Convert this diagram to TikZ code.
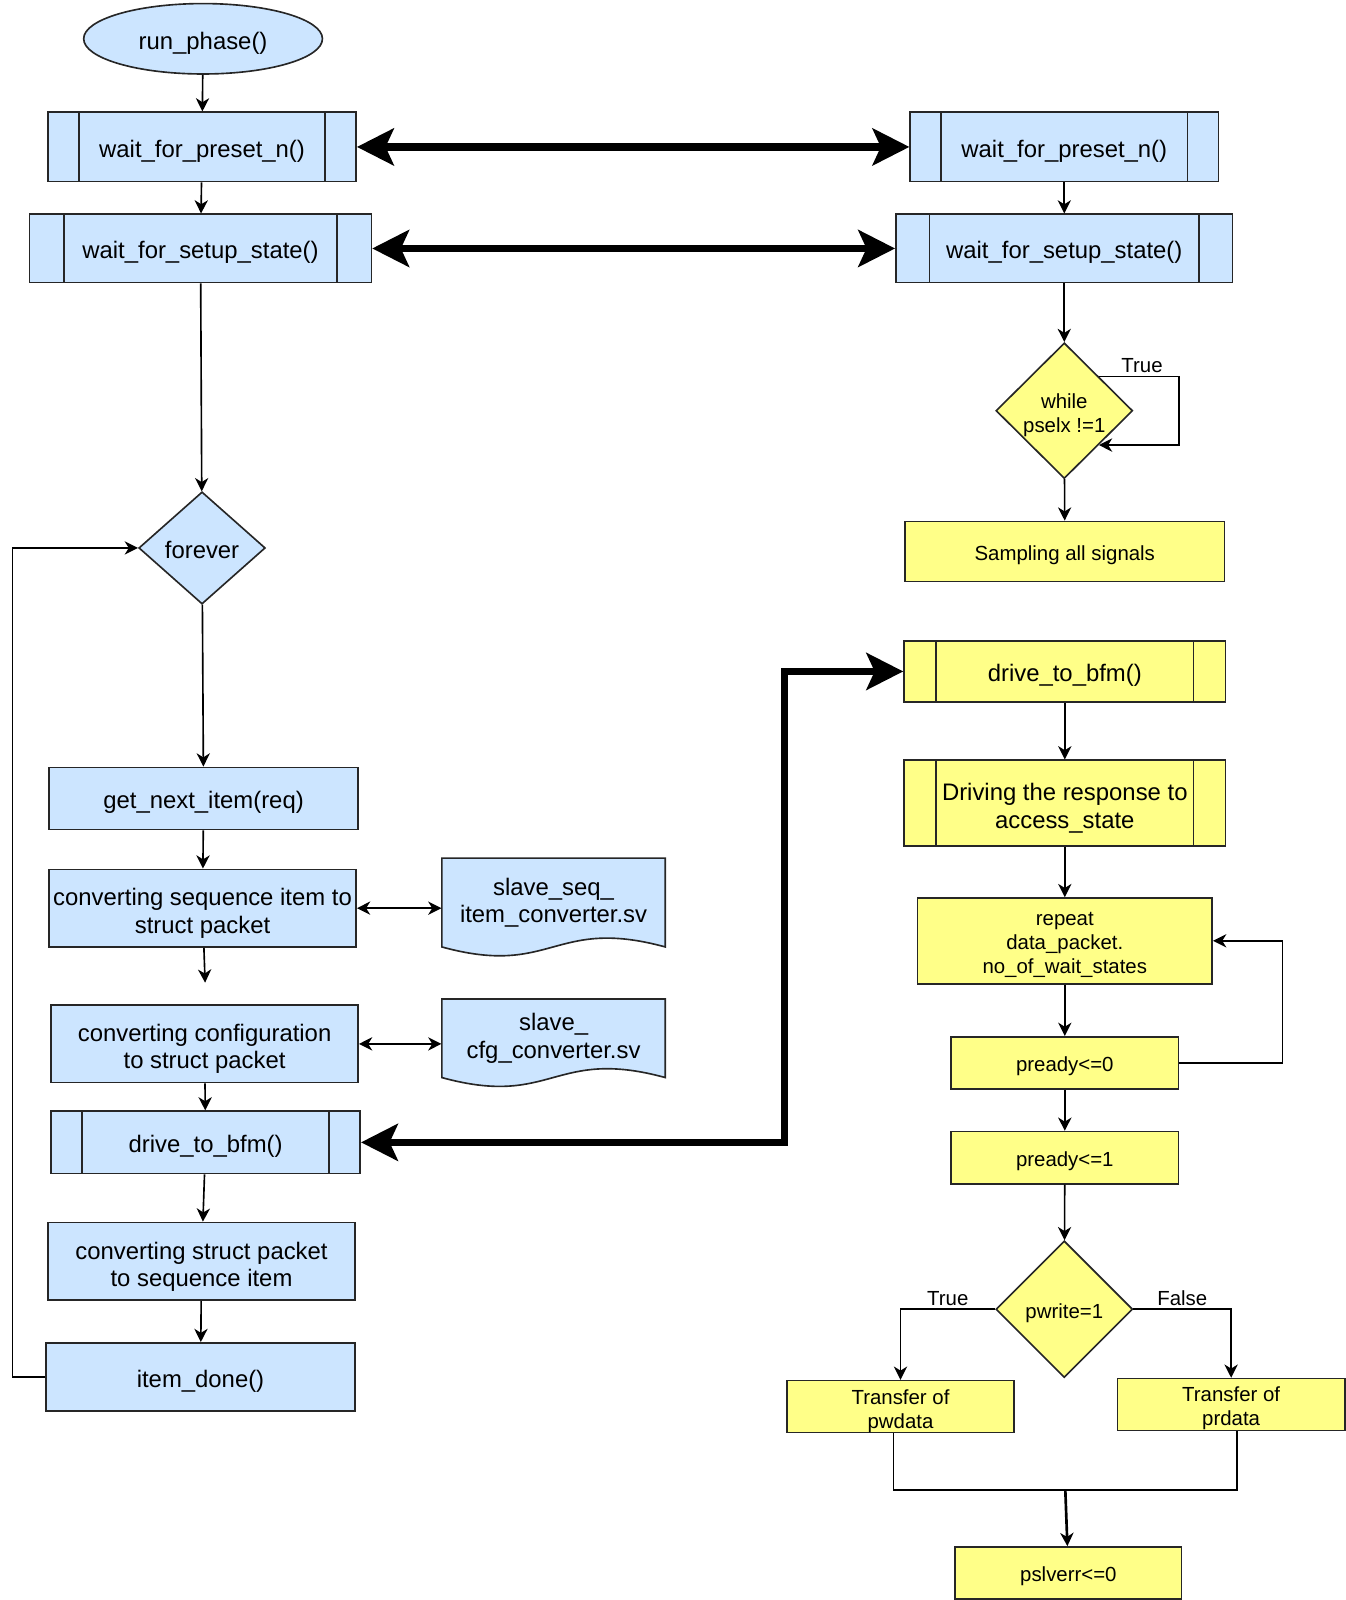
\documentclass[tikz,border=0pt]{standalone}
\usepackage{fontspec}
\setmainfont{Liberation Sans}
\usetikzlibrary{shapes.geometric,arrows.meta,calc,positioning}
\definecolor{azul}{HTML}{CCE5FF}
\definecolor{amarillo}{HTML}{FFFF88}

\begin{document}
\begin{tikzpicture}[x=0.5pt,y=-0.5pt,
  caja/.style={draw=black!85, line width=0.8pt, inner sep=0pt, align=center},
  azulc/.style={caja, fill=azul, font=\fontsize{11.7}{13.5}\selectfont, text height=12.5pt},
  amac/.style={caja, fill=amarillo, font=\fontsize{10}{11.75}\selectfont, text height=10.7pt},
  amag/.style={amac, font=\fontsize{11.7}{13.5}\selectfont, text height=12.5pt},
  subproc/.style={path picture={
    \draw[line width=0.8pt, draw=black!85]
      ($(path picture bounding box.north west)!0.1!(path picture bounding box.north east)$) --
      ($(path picture bounding box.south west)!0.1!(path picture bounding box.south east)$)
      ($(path picture bounding box.north east)!0.1!(path picture bounding box.north west)$) --
      ($(path picture bounding box.south east)!0.1!(path picture bounding box.south west)$);}},
  flecha/.style={-{Stealth[length=6.5pt,width=6.5pt,inset=2pt]}, line width=0.8pt},
  dflecha/.style={{Stealth[length=6.5pt,width=6.5pt,inset=2pt]}-{Stealth[length=6.5pt,width=6.5pt,inset=2pt]}, line width=0.8pt},
  gruesa/.style={{Stealth[length=18pt,width=18pt,inset=4pt]}-{Stealth[length=18pt,width=18pt,inset=4pt]}, line width=3.5pt},
  etiq/.style={font=\fontsize{10}{12}\selectfont, inner sep=1.5pt}
]
\useasboundingbox (0,0) rectangle (1319,1568);

% Columna izquierda (driver)
\node[ellipse, azulc, minimum width=117pt, minimum height=34.5pt] (run) at (199,38) {run\_phase()}; % inicio
\node[azulc, subproc, minimum width=151pt, minimum height=34pt] (presetL) at (198,144) {wait\_for\_preset\_n()};
\node[azulc, subproc, minimum width=167.5pt, minimum height=33.5pt] (setupL) at (196.5,243.5) {wait\_for\_setup\_state()};
\node[diamond, azulc, text depth=2pt, minimum width=62pt, minimum height=55pt] (forever) at (198,537) {forever};
\node[azulc, minimum width=151.5pt, minimum height=30.5pt] (getnext) at (199.5,782.5) {get\_next\_item(req)};
\node[azulc, text height=27pt, minimum width=150.5pt, minimum height=38pt] (conv1) at (198.5,890) {converting sequence item to\\struct packet};
\node[azulc, text height=27pt, minimum width=150.5pt, minimum height=38pt] (conv2) at (200.5,1023) {converting configuration\\to struct packet};
\node[azulc, subproc, minimum width=151.5pt, minimum height=30.5pt] (driveL) at (201.5,1119.5) {drive\_to\_bfm()};
\node[azulc, text height=27.5pt, minimum width=150.5pt, minimum height=38pt] (conv3) at (197.5,1236) {converting struct packet\\to sequence item};
\node[azulc, minimum width=151.5pt, minimum height=33.5pt] (done) at (196.5,1349.5) {item\_done()};

% Documentos de conversion
\filldraw[fill=azul, draw=black!85, line width=0.8pt] (433,841) -- (652,841) -- (652,928)
  .. controls (542,898) and (542,958) .. (433,928) -- cycle;
\node[font=\fontsize{11.7}{13.5}\selectfont, align=center, inner sep=0pt, minimum width=109.5pt, minimum height=43.5pt] (seqconv) at (542.5,884.5) {slave\_seq\_\\item\_converter.sv};
\filldraw[fill=azul, draw=black!85, line width=0.8pt] (433,979) -- (652,979) -- (652,1056)
  .. controls (542,1026) and (542,1086) .. (433,1056) -- cycle;
\node[font=\fontsize{11.7}{13.5}\selectfont, align=center, inner sep=0pt, minimum width=109.5pt, minimum height=38.5pt] (cfgconv) at (542.5,1017.5) {slave\_\\cfg\_converter.sv};

% Columna derecha (bfm)
\node[azulc, subproc, minimum width=151pt, minimum height=34pt] (presetR) at (1043,144) {wait\_for\_preset\_n()};
\node[azulc, subproc, minimum width=165pt, minimum height=33.5pt] (setupR) at (1043,243.5) {wait\_for\_setup\_state()};
\node[diamond, amac, text height=23pt, minimum width=67pt, minimum height=66.5pt] (whilesel) at (1043,402.5) {while\\pselx !=1};
\node[amac, minimum width=156.5pt, minimum height=29.5pt] (sample) at (1043.5,540.5) {Sampling all signals};
\node[amag, subproc, minimum width=157.5pt, minimum height=30pt] (driveR) at (1043.5,658) {drive\_to\_bfm()};
\node[amag, subproc, text height=27pt, minimum width=157.5pt, minimum height=42pt] (drvresp) at (1043.5,787) {Driving the response to\\access\_state};
\node[amac, text height=34.2pt, minimum width=144.5pt, minimum height=42pt] (repeatw) at (1043.5,922) {repeat\\data\_packet.\\no\_of\_wait\_states};
\node[amac, minimum width=111.5pt, minimum height=25.5pt] (ready0) at (1043.5,1041.5) {pready<=0};
\node[amac, minimum width=111.5pt, minimum height=25.5pt] (ready1) at (1043.5,1134.5) {pready<=1};
\node[diamond, amac, minimum width=67pt, minimum height=67pt] (pwrite) at (1043,1283) {pwrite=1};
\node[amac, text height=23pt, minimum width=111.5pt, minimum height=25.5pt] (pwdata) at (882.5,1378.5) {Transfer of\\pwdata};
\node[amac, text height=23pt, minimum width=111.5pt, minimum height=25.5pt] (prdata) at (1206.5,1376.5) {Transfer of\\prdata};
\node[amac, minimum width=111pt, minimum height=25.5pt] (pslverr) at (1047,1541.5) {pslverr<=0};

% Flechas columna izquierda
\draw[flecha] (run) -- (presetL);
\draw[flecha] (presetL) -- (setupL);
\draw[flecha] (setupL) -- (forever);
\draw[flecha] (forever) -- (getnext);
\draw[flecha] (getnext) -- (conv1);
\coordinate (hueco) at (201,963);
\draw[flecha] (conv1) -- (hueco);
\draw[flecha] (conv2) -- (driveL);
\draw[flecha] (driveL) -- (conv3);
\draw[flecha] (conv3) -- (done);
\draw[flecha] (done.west) -- ++(-32,0) |- (forever.west); % vuelta al forever
\draw[dflecha] (conv1.east) -- (conv1.east -| seqconv.west);
\draw[dflecha] (conv2.east) -- (conv2.east -| cfgconv.west);

% Flechas gruesas entre driver y bfm
\draw[gruesa] (presetL) -- (presetR);
\draw[gruesa] (setupL) -- (setupR);
\draw[gruesa] (driveL.east) -- ++(415,0) |- (driveR.west);

% Flechas columna derecha
\draw[flecha] (presetR) -- (setupR);
\draw[flecha] (setupR) -- (whilesel);
\draw[flecha] ($(whilesel.north)!0.5!(whilesel.east)$) -- ++(78.5,0) node[midway, above, etiq, xshift=1.5pt] {True}
  |- ($(whilesel.east)!0.5!(whilesel.south)$);
\draw[flecha] (whilesel) -- (sample);
\draw[flecha] (driveR) -- (drvresp);
\draw[flecha] (drvresp) -- (repeatw);
\draw[flecha] (repeatw) -- (ready0);
\draw[flecha] (ready0.east) -- ++(101,0) |- (repeatw.east); % repetir
\draw[flecha] (ready0) -- (ready1);
\draw[flecha] (ready1) -- (pwrite);
\draw[flecha] (pwrite.west) -| node[pos=0.25, above, etiq] {True} (pwdata.north);
\draw[flecha] (pwrite.east) -| node[pos=0.25, above, etiq] {False} (prdata.north);

% Union final
\coordinate (union) at (1044,1460);
\draw[line width=0.8pt] ([xshift=-3.5pt]pwdata.south) |- (union) -| ([xshift=3pt]prdata.south);
\draw[flecha, line width=1.3pt] (union) -- (pslverr);

\end{tikzpicture}
\end{document}
